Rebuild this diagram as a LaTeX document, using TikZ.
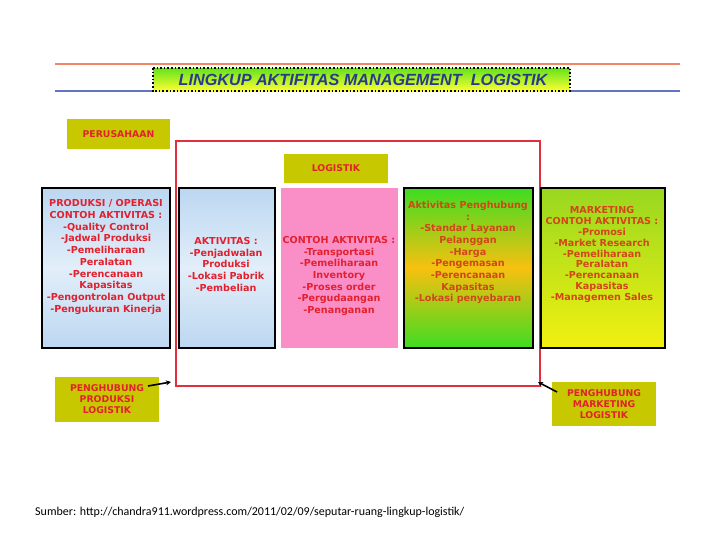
\documentclass[tikz,border=0pt]{standalone}
\usepackage{fontspec}
\setmainfont{DejaVu Sans}
\newfontfamily\titlefont{Liberation Sans}
\newfontfamily\srcfont{Carlito}
\usetikzlibrary{arrows.meta}
\definecolor{redtxt}{HTML}{E2202E}
\definecolor{orgtxt}{HTML}{D2461A}
\definecolor{olive}{HTML}{C8C800}
\definecolor{frame}{HTML}{E03040}
\definecolor{skyA}{HTML}{BCD7F1}
\definecolor{skyB}{HTML}{E2EEF9}
\definecolor{pinkbox}{HTML}{FA8FC8}
\definecolor{grn}{HTML}{3EDC22}
\definecolor{yel}{HTML}{F8C010}
\definecolor{grnB}{HTML}{98D820}
\definecolor{yelB}{HTML}{F2F010}
\definecolor{titleblue}{HTML}{2A3A8A}
\definecolor{lineorange}{HTML}{F08868}
\definecolor{lineblue}{HTML}{6474C4}
\tikzset{
  x=1pt, y=-1pt,
  boxtxt/.style={align=center, font=\fontsize{9.6}{11.7}\selectfont\bfseries, inner sep=0pt},
  labtxt/.style={align=center, font=\fontsize{9.3}{11}\selectfont\bfseries, inner sep=0pt, text=redtxt},
  skybox/.style={draw=black, line width=1.3pt, top color=skyA, bottom color=skyA, middle color=skyB},
  arr/.style={-{Stealth[length=5pt,width=5pt]}, line width=1.6pt, black}
}
\begin{document}
\begin{tikzpicture}
\useasboundingbox[fill=white] (0,0) rectangle (728,546);
% top lines
\draw[lineorange, line width=1.5pt] (55,64) -- (680,64);
\draw[lineblue, line width=1.5pt] (55,91) -- (680,91);
% title
\shade[top color=grn!80!yellow, bottom color=yellow!80!white] (153,68) rectangle (570,91);
\draw[black, line width=1.6pt, dotted] (153,68) rectangle (570,91);
\node[font=\titlefont\fontsize{16.2}{17}\selectfont\bfseries\itshape, text=titleblue, inner sep=0pt] (title) at (363,79.5) {LINGKUP AKTIFITAS MANAGEMENT\ \ LOGISTIK};
% perusahaan
\fill[olive] (67,119) rectangle (170,149);
\node[labtxt] (per) at (118.5,134) {PERUSAHAAN};
% red frame
\draw[frame, line width=1.8pt] (176,141) rectangle (540,386);
% logistik label
\fill[olive] (284,154) rectangle (388,183);
\node[labtxt] (log) at (336,168.5) {LOGISTIK};
% columns
\path[skybox] (42,188) rectangle (170,348);
\path[skybox] (179,188) rectangle (275,348);
\fill[pinkbox] (281,188) rectangle (398,348);
\path[draw=black, line width=1.3pt, top color=grn, bottom color=grn, middle color=yel] (404,188) rectangle (533,348);
\path[draw=black, line width=1.3pt, top color=grnB, bottom color=yelB] (541,188) rectangle (665,348);
\node[boxtxt, text=redtxt] (c1) at (106,257) {PRODUKSI / OPERASI\\CONTOH AKTIVITAS :\\-Quality Control\\-Jadwal Produksi\\-Pemeliharaan\\Peralatan\\-Perencanaan\\Kapasitas\\-Pengontrolan Output\\-Pengukuran Kinerja};
\node[boxtxt, text=redtxt] (c2) at (226,264.5) {AKTIVITAS :\\-Penjadwalan\\Produksi\\-Lokasi Pabrik\\-Pembelian};
\node[boxtxt, text=redtxt] (c3) at (339,276) {CONTOH AKTIVITAS :\\-Transportasi\\-Pemeliharaan\\Inventory\\-Proses order\\-Pergudaangan\\-Penanganan};
\node[boxtxt, text=orgtxt] (c4) at (468,252.5) {Aktivitas Penghubung\\:\\-Standar Layanan\\Pelanggan\\-Harga\\-Pengemasan\\-Perencanaan\\Kapasitas\\-Lokasi penyebaran};
\node[boxtxt, text=orgtxt, font=\fontsize{9.6}{10.9}\selectfont\bfseries] (c5) at (602,254.5) {MARKETING\\CONTOH AKTIVITAS :\\-Promosi\\-Market Research\\-Pemeliharaan\\Peralatan\\-Perencanaan\\Kapasitas\\-Managemen Sales};
% bottom boxes
\fill[olive] (55,377) rectangle (159,422);
\node[labtxt] (pp) at (107,399.5) {PENGHUBUNG\\PRODUKSI\\LOGISTIK};
\fill[olive] (552,382) rectangle (656,426);
\node[labtxt] (pm) at (604,404) {PENGHUBUNG\\MARKETING\\LOGISTIK};
\coordinate (a1s) at (148,386);
\coordinate (a1e) at (171,382);
\coordinate (a2s) at (557,392);
\coordinate (a2e) at (538,382);
\draw[arr] (a1s) -- (a1e);
\draw[arr] (a2s) -- (a2e);
% source
\node[font=\srcfont\fontsize{12}{14}\selectfont, anchor=west, inner sep=0pt] (src) at (35,512) {Sumber: http://chandra911.wordpress.com/2011/02/09/seputar-ruang-lingkup-logistik/};
\end{tikzpicture}
\end{document}
